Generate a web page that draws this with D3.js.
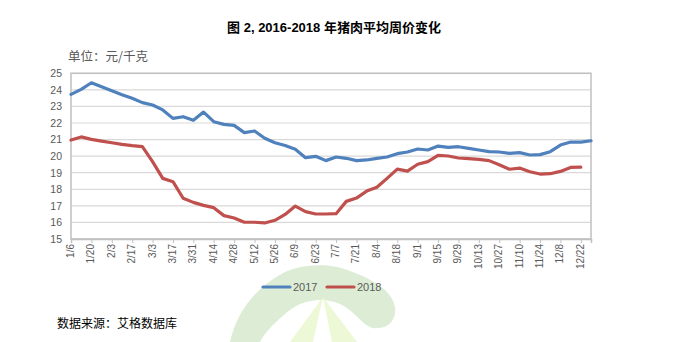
<!DOCTYPE html>
<html><head><meta charset="utf-8">
<script src="https://cdn.jsdelivr.net/npm/d3@7"></script>
<style>body{margin:0;background:#fff;}svg{display:block;}</style>
</head><body>
<script>
const categories = ["1/6","1/13","1/20","1/27","2/3","2/10","2/17","2/24","3/3","3/10","3/17","3/24","3/31","4/7","4/14","4/21","4/28","5/5","5/12","5/19","5/26","6/2","6/9","6/16","6/23","6/30","7/7","7/14","7/21","7/28","8/4","8/11","8/18","8/25","9/1","9/8","9/15","9/22","9/29","10/6","10/13","10/20","10/27","11/3","11/10","11/17","11/24","12/1","12/8","12/15","12/22","12/29"];
const series2017 = [23.73,24.03,24.43,24.19,23.95,23.71,23.49,23.23,23.09,22.79,22.28,22.38,22.16,22.66,22.08,21.92,21.86,21.42,21.52,21.08,20.81,20.64,20.41,19.91,19.99,19.73,19.95,19.87,19.73,19.77,19.87,19.95,20.15,20.25,20.43,20.37,20.61,20.53,20.57,20.47,20.37,20.27,20.25,20.17,20.21,20.07,20.09,20.27,20.67,20.85,20.85,20.93];
const series2018 = [20.97,21.16,21.01,20.91,20.81,20.71,20.63,20.57,19.67,18.66,18.46,17.46,17.21,17.03,16.89,16.41,16.27,16.01,16.01,15.97,16.13,16.48,16.99,16.65,16.51,16.51,16.53,17.27,17.47,17.89,18.12,18.66,19.22,19.10,19.51,19.67,20.05,20.01,19.89,19.85,19.81,19.73,19.48,19.21,19.28,19.06,18.92,18.94,19.08,19.32,19.34];
const yTicks = [15,16,17,18,19,20,21,22,23,24,25];
const seriesNames = ["2017","2018"];
const seriesColors = ["#4F81BD","#C0504D"];

const W = 681, H = 342;
const svg = d3.select("body").append("svg").attr("width", W).attr("height", H);

// watermark
const wm = svg.append("g");
wm.append("path")
  .attr("d","M230,342 C236,315 252,290 283,273 C300,264 330,262 350,271 C372,279 392,290 395,307 C397,320 388,330 373,328 C363,326 356,312 340,304 C322,296 300,300 285,314 C272,325 264,334 260,342 Z")
  .attr("fill","#ddedd5");
wm.append("path").attr("d","M323,297 L290,342 L313,342 Z").attr("fill","#edf9d6");
wm.append("path").attr("d","M323,297 L332,342 L357,342 Z").attr("fill","#edf9d6");

const x = d3.scalePoint().domain(categories).range([71, 591]);
const y = d3.scaleLinear().domain([15, 25]).range([239, 73.3]);

// gridlines
svg.append("g").selectAll("line").data(yTicks).join("line")
  .attr("x1", 71).attr("x2", 591)
  .attr("y1", d => y(d)).attr("y2", d => y(d))
  .attr("stroke", "#d9d9d9").attr("stroke-width", 1.2);

// plot border
svg.append("rect").attr("x", 71).attr("y", y(25)).attr("width", 520).attr("height", y(15) - y(25))
  .attr("fill", "none").attr("stroke", "#c0c0c0").attr("stroke-width", 1.5);

// y axis
const yAxis = d3.axisLeft(y).tickValues(yTicks).tickSize(0).tickPadding(9);
const gy = svg.append("g").attr("transform", "translate(71,0)").call(yAxis);
gy.select(".domain").remove();
gy.selectAll("text").attr("font-family", "Liberation Sans, Arial, sans-serif").attr("font-size", 10.5).attr("fill", "#595959");

// x axis
const shown = categories.filter((d, i) => i % 2 === 0);
const xAxis = d3.axisBottom(x).tickValues(shown).tickSize(4).tickPadding(2);
const gx = svg.append("g").attr("transform", "translate(0,239)").call(xAxis);
gx.select(".domain").attr("stroke", "#c0c0c0").attr("stroke-width", 1.5);
gx.selectAll(".tick line").attr("stroke", "#c0c0c0");
gx.selectAll("text")
  .attr("font-family", "Liberation Sans, Arial, sans-serif").attr("font-size", 10).attr("fill", "#595959")
  .attr("text-anchor", "end").attr("dy", "0.35em")
  .attr("transform", "translate(-1,5) rotate(-90)").attr("x", 0).attr("y", 0);

// lines
const line = d3.line().x((d, i) => x(categories[i])).y(d => y(d)).curve(d3.curveLinear);
[series2017, series2018].forEach((s, k) => {
  svg.append("path").datum(s).attr("d", line)
    .attr("fill", "none").attr("stroke", seriesColors[k]).attr("stroke-width", 3.2)
    .attr("stroke-linejoin", "round").attr("stroke-linecap", "round");
});

// legend
const legendX = [263, 327];
seriesNames.forEach((n, k) => {
  svg.append("line").attr("x1", legendX[k]).attr("x2", legendX[k] + 27).attr("y1", 287).attr("y2", 287)
    .attr("stroke", seriesColors[k]).attr("stroke-width", 3.2).attr("stroke-linecap", "round");
  svg.append("text").attr("x", legendX[k] + 30).attr("y", 291).text(n)
    .attr("font-family", "Liberation Sans, Arial, sans-serif").attr("font-size", 11).attr("fill", "#595959");
});

// title
svg.append("text").attr("x", 334).attr("y", 32).attr("text-anchor", "middle")
  .attr("font-family", "Liberation Sans, Noto Sans CJK SC, sans-serif").attr("font-weight", "bold").attr("font-size", 13)
  .attr("fill", "#000").text("图 2, 2016-2018 年猪肉平均周价变化");

// unit
svg.append("text").attr("x", 68).attr("y", 61)
  .attr("font-family", "Noto Sans CJK SC, sans-serif").attr("font-size", 12.5).attr("fill", "#595959")
  .text("单位：元/千克");

// source
svg.append("text").attr("x", 57).attr("y", 328)
  .attr("font-family", "Noto Sans CJK SC, sans-serif").attr("font-size", 12).attr("fill", "#000")
  .text("数据来源：艾格数据库");
</script>
</body></html>
